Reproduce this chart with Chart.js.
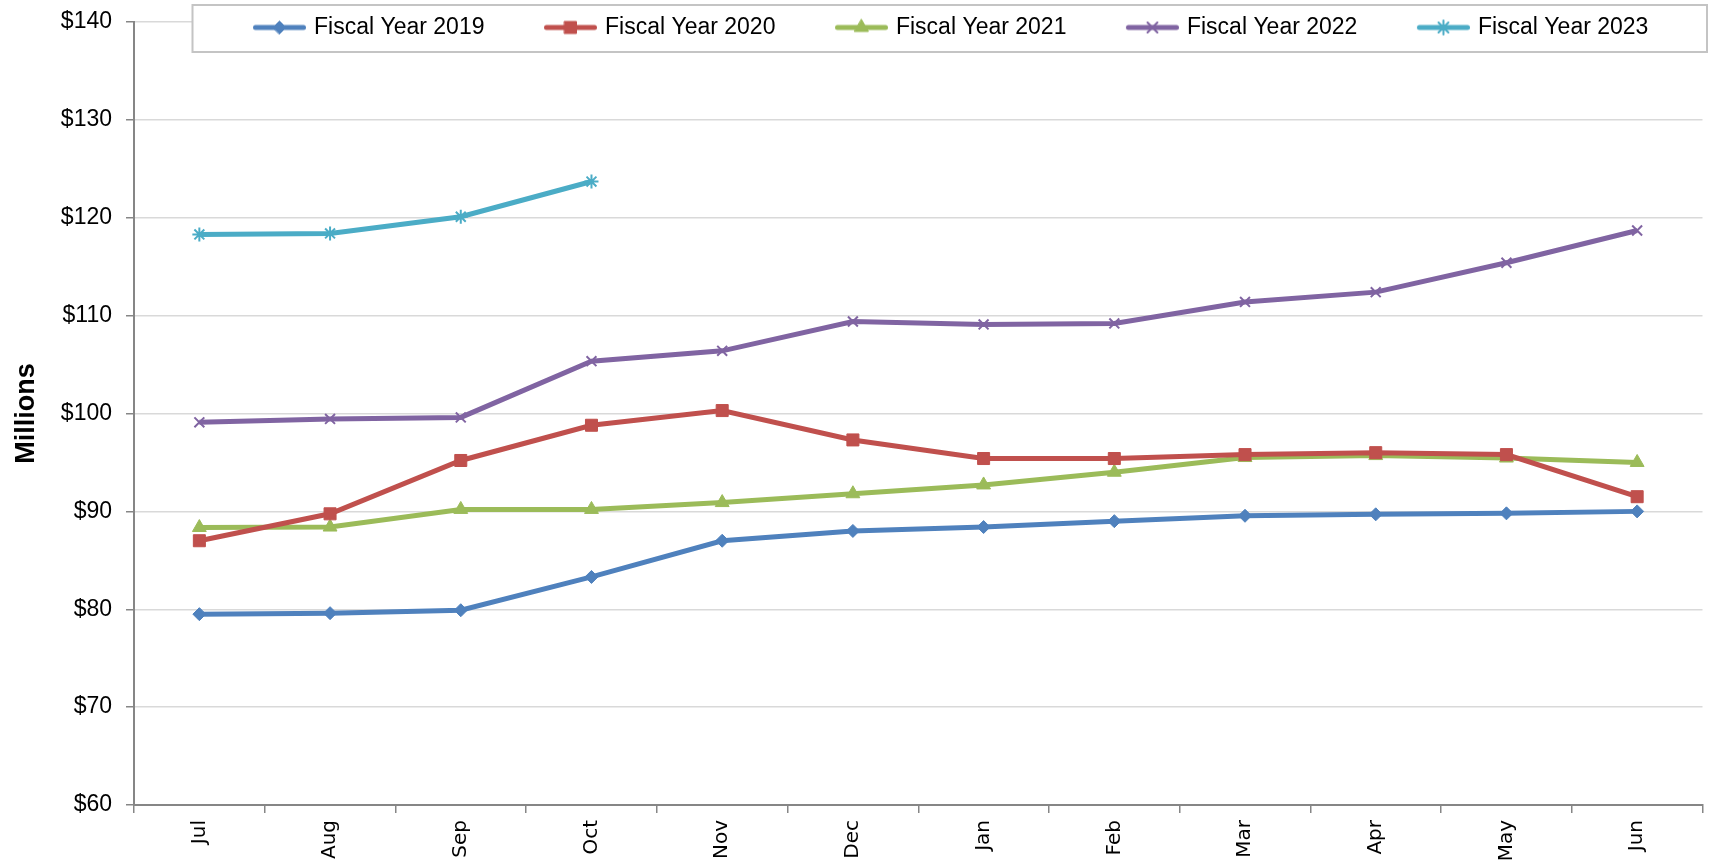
<!DOCTYPE html>
<html>
<head>
<meta charset="utf-8">
<script src="https://cdn.jsdelivr.net/npm/chart.js@4/dist/chart.umd.min.js"></script>
<style>
html,body{margin:0;padding:0;background:#fff;}
canvas{display:block;}
</style>
</head>
<body>
<canvas id="c" width="1712" height="864" style="width:1712px;height:864px"></canvas>
<script>
// ---- data ----
const months = ['Jul','Aug','Sep','Oct','Nov','Dec','Jan','Feb','Mar','Apr','May','Jun'];
const seriesNames = ['Fiscal Year 2019','Fiscal Year 2020','Fiscal Year 2021','Fiscal Year 2022','Fiscal Year 2023'];
const fy2019 = [79.5, 79.6, 79.9, 83.3, 87.0, 88.0, 88.4, 89.0, 89.55, 89.7, 89.8, 90.0];
const fy2020 = [87.0, 89.75, 95.2, 98.8, 100.3, 97.3, 95.4, 95.4, 95.8, 96.0, 95.8, 91.5];
const fy2021 = [88.35, 88.4, 90.2, 90.2, 90.9, 91.8, 92.7, 94.0, 95.5, 95.7, 95.45, 95.0];
const fy2022 = [99.1, 99.45, 99.6, 105.35, 106.4, 109.4, 109.1, 109.2, 111.4, 112.4, 115.4, 118.7];
const fy2023 = [118.3, 118.4, 120.1, 123.7];
const yMin = 60, yMax = 140, yStep = 10;

// ---- styles ----
const seriesValues = [fy2019, fy2020, fy2021, fy2022, fy2023];
const colors = ['#4F81BD', '#C0504D', '#9BBB59', '#8064A2', '#4BACC6'];
const markers = ['rectRot', 'rect', 'triangle', 'crossRot', 'star'];
const markerRadius = [6.5, 8.5, 8, 7, 7];
const markerBorder = [1, 1, 1, 2, 2];
const LINE_W = 5;

const LEGEND_FONT = {family: '"Liberation Sans", Arial, sans-serif', size: 23};
const BOX_W = 99;

function legendImage(i) {
  const W = BOX_W + 7, H = 22;
  const cv = document.createElement('canvas');
  cv.width = W; cv.height = H;
  const ctx = cv.getContext('2d');
  ctx.strokeStyle = colors[i];
  ctx.fillStyle = colors[i];
  ctx.lineWidth = LINE_W;
  ctx.lineCap = 'round';
  const x1 = W - 53 + 2.5, x2 = W - 2.5;
  ctx.beginPath(); ctx.moveTo(x1, H / 2); ctx.lineTo(x2, H / 2); ctx.stroke();
  ctx.lineWidth = markerBorder[i];
  Chart.helpers.drawPoint(ctx, {pointStyle: markers[i], radius: markerRadius[i], rotation: 0, borderWidth: markerBorder[i]}, (x1 + x2) / 2, H / 2);
  return cv;
}

const legendBoxPlugin = {
  id: 'legendBox',
  beforeDraw(chart) {
    const lg = chart.legend;
    if (!lg) return;
    lg.left = 193.5; lg.right = 1707; lg.top = 6; lg.bottom = 56;
    if (!lg._boxPatched) {
      const orig = lg.draw.bind(lg);
      lg.draw = function (ca) {
        const ctx = chart.ctx;
        ctx.save();
        ctx.fillStyle = '#ffffff';
        ctx.fillRect(192.5, 5, 1707 - 192.5, 47);
        ctx.strokeStyle = '#c4c4c4';
        ctx.lineWidth = 2;
        ctx.strokeRect(192.5, 5, 1707 - 192.5, 47);
        ctx.restore();
        orig(ca);
      };
      lg._boxPatched = true;
    }
  }
};

const datasets = seriesNames.map((name, i) => ({
  label: name,
  data: seriesValues[i],
  borderColor: colors[i],
  backgroundColor: colors[i],
  borderWidth: LINE_W,
  tension: 0,
  pointStyle: markers[i],
  pointRadius: markerRadius[i],
  pointHoverRadius: markerRadius[i],
  pointBackgroundColor: colors[i],
  pointBorderColor: colors[i],
  pointBorderWidth: markerBorder[i],
  fill: false
}));

new Chart(document.getElementById('c'), {
  type: 'line',
  data: {labels: months, datasets},
  plugins: [legendBoxPlugin],
  options: {
    responsive: false,
    animation: false,
    devicePixelRatio: 1,
    layout: {padding: {left: 0, right: 2, top: 0, bottom: 0}},
    plugins: {
      tooltip: {enabled: false},
      legend: {
        display: true,
        position: 'top',
        align: 'start',
        maxHeight: 17,
        labels: {
          usePointStyle: true,
          pointStyleWidth: BOX_W,
          padding: 10,
          color: '#000',
          font: LEGEND_FONT,
          generateLabels(chart) {
            const items = Chart.defaults.plugins.legend.labels.generateLabels(chart);
            return items.map((it, i) => Object.assign(it, {pointStyle: legendImage(i)}));
          }
        }
      }
    },
    scales: {
      x: {
        type: 'category',
        offset: true,
        grid: {offset: true, drawOnChartArea: false, drawTicks: true, tickLength: 8, color: '#868686', lineWidth: 1.5},
        border: {display: true, color: '#868686', width: 2},
        ticks: {
          minRotation: 90, maxRotation: 90, padding: 7, color: '#000',
          font: {family: '"DejaVu Sans", sans-serif', size: 20}
        },
        afterFit(scale) { scale.height = 59; }
      },
      y: {
        min: yMin, max: yMax,
        grid: {color: '#d9d9d9', lineWidth: 1.5, drawTicks: true, tickLength: 8, tickColor: '#868686'},
        border: {display: true, color: '#868686', width: 2},
        ticks: {
          stepSize: yStep, padding: 14, color: '#000',
          font: {family: '"Liberation Sans", Arial, sans-serif', size: 23},
          callback: (v) => '$' + v
        },
        title: {
          display: true, text: 'Millions', color: '#000',
          font: {family: '"Liberation Sans", Arial, sans-serif', size: 27, weight: 'bold'},
          padding: {top: 10, bottom: 0}
        },
        afterFit(scale) { scale.width = 134; scale.paddingTop = 22; }
      }
    }
  }
});
</script>
</body>
</html>
